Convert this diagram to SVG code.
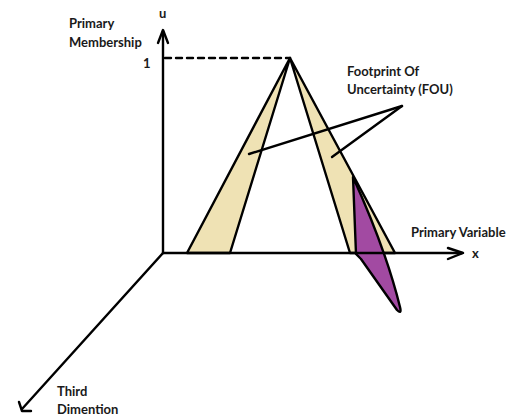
<svg xmlns="http://www.w3.org/2000/svg" width="520" height="418" viewBox="0 0 520 418">
<style>
.ln{stroke:#000;stroke-width:2.4;fill:none;stroke-linecap:round;stroke-linejoin:round}
.fou{fill:#EFE2B4;stroke:#000;stroke-width:2.4;stroke-linejoin:round}
.sec{fill:#A24AA2;stroke:#000;stroke-width:2.4;stroke-linejoin:round}
.t{font-family:Lato,"Open Sans","Liberation Sans",sans-serif;font-weight:bold;font-size:13px;fill:#1a1a1a}
</style>
<rect width="520" height="418" fill="#fff"/>
<g id="fou-left"><polygon class="fou" points="290,58 187,253 230,253"/></g>
<g id="fou-right"><polygon class="fou" points="290,58 350,253 395,253"/></g>
<g id="secondary"><path class="sec" d="M353,177 L356,254 L361,259 L397,310 Q402,315 400,307 Q386,250 353,177 Z"/></g>
<g id="connectors">
<line class="ln" x1="163" y1="253" x2="163" y2="31"/>
<polyline class="ln" points="158,43 163,30 168,43"/>
<line class="ln" x1="163" y1="253" x2="462" y2="253"/>
<polyline class="ln" points="448,248 463,253 448,259"/>
<line class="ln" x1="163" y1="253" x2="22" y2="409"/>
<polyline class="ln" points="19,402 22,411 31,411"/>
<line class="ln" x1="165" y1="58" x2="290" y2="58" stroke-dasharray="6,5" stroke-linecap="butt"/>
<line class="ln" x1="249" y1="154" x2="402" y2="106"/>
<line class="ln" x1="332" y1="157" x2="402" y2="106"/>
</g>
<g id="labels">
<text class="t" x="69" y="28">Primary</text>
<text class="t" x="69" y="47">Membership</text>
<text class="t" x="159" y="18">u</text>
<text class="t" x="143" y="68">1</text>
<text class="t" x="347" y="76">Footprint Of</text>
<text class="t" x="347" y="94">Uncertainty (FOU)</text>
<text class="t" x="411" y="237">Primary Variable</text>
<text class="t" x="472" y="258">x</text>
<text class="t" x="57" y="396">Third</text>
<text class="t" x="57" y="414">Dimention</text>
</g>
</svg>
